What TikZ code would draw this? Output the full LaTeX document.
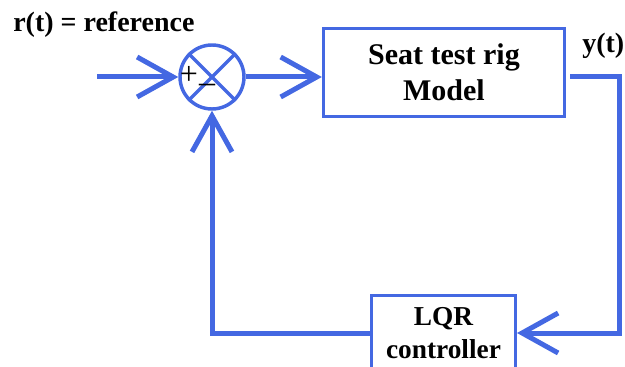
\documentclass[tikz,border=0pt]{standalone}
\usepackage{fontspec}
\setmainfont{Liberation Serif}
\usetikzlibrary{arrows.meta}
\definecolor{lblue}{HTML}{4468E2}

\begin{document}
\begin{tikzpicture}[x=0.75pt,y=-0.75pt,
    wire/.style={lblue,line width=3.75pt},
    flow/.style={wire,-{Straight Barb[length=27pt,width=30pt]}},
    blk/.style={draw=lblue,line width=2.25pt,align=center,inner sep=0pt},
    lbl/.style={font=\bfseries\fontsize{21}{25}\selectfont}]
  \useasboundingbox (0,0) rectangle (625,367);
  \clip (0,0) rectangle (625,367);
  % ---- summing junction ----
  \node[circle,draw=lblue,line width=2.6pt,minimum size=48pt,inner sep=0pt] (sum) at (212,77) {};
  \draw[lblue,line width=2.6pt] (sum.north west) -- (sum.south east)
        (sum.north east) -- (sum.south west);
  \node[font=\fontsize{24}{28}\selectfont] (plus) at (189,75) {+};
  \node[font=\fontsize{24}{28}\selectfont] (minus) at (207,88) {--};
  % ---- blocks ----
  \node[blk,minimum width=181pt,minimum height=66.5pt,
        font=\bfseries\fontsize{22.5}{27}\selectfont] (plant) at (444,72.5) {Seat test rig\\Model};
  \node[blk,minimum width=108pt,minimum height=56pt,
        font=\bfseries\fontsize{20.5}{24.75}\selectfont] (lqr) at (443.5,333) {LQR\\controller};
  % ---- labels ----
  \node[lbl,anchor=base west,inner sep=0pt] (ref) at (13,32) {r(t) = reference};
  \node[lbl,anchor=base west,inner sep=0pt] (yt) at (582,53) {y(t)};
  % ---- connectors ----
  \coordinate (in) at (97,77);
  \coordinate (yout) at (570,77);
  \coordinate (ycorner) at (619,77);
  \draw[flow] (in) -- (sum.west);
  \draw[flow] (sum.east) -- (sum.east -| plant.west);
  \draw[flow] (yout) -- (ycorner) |- (lqr.east);
  \draw[flow] (lqr.west) -| (sum.south);
\end{tikzpicture}
\end{document}
